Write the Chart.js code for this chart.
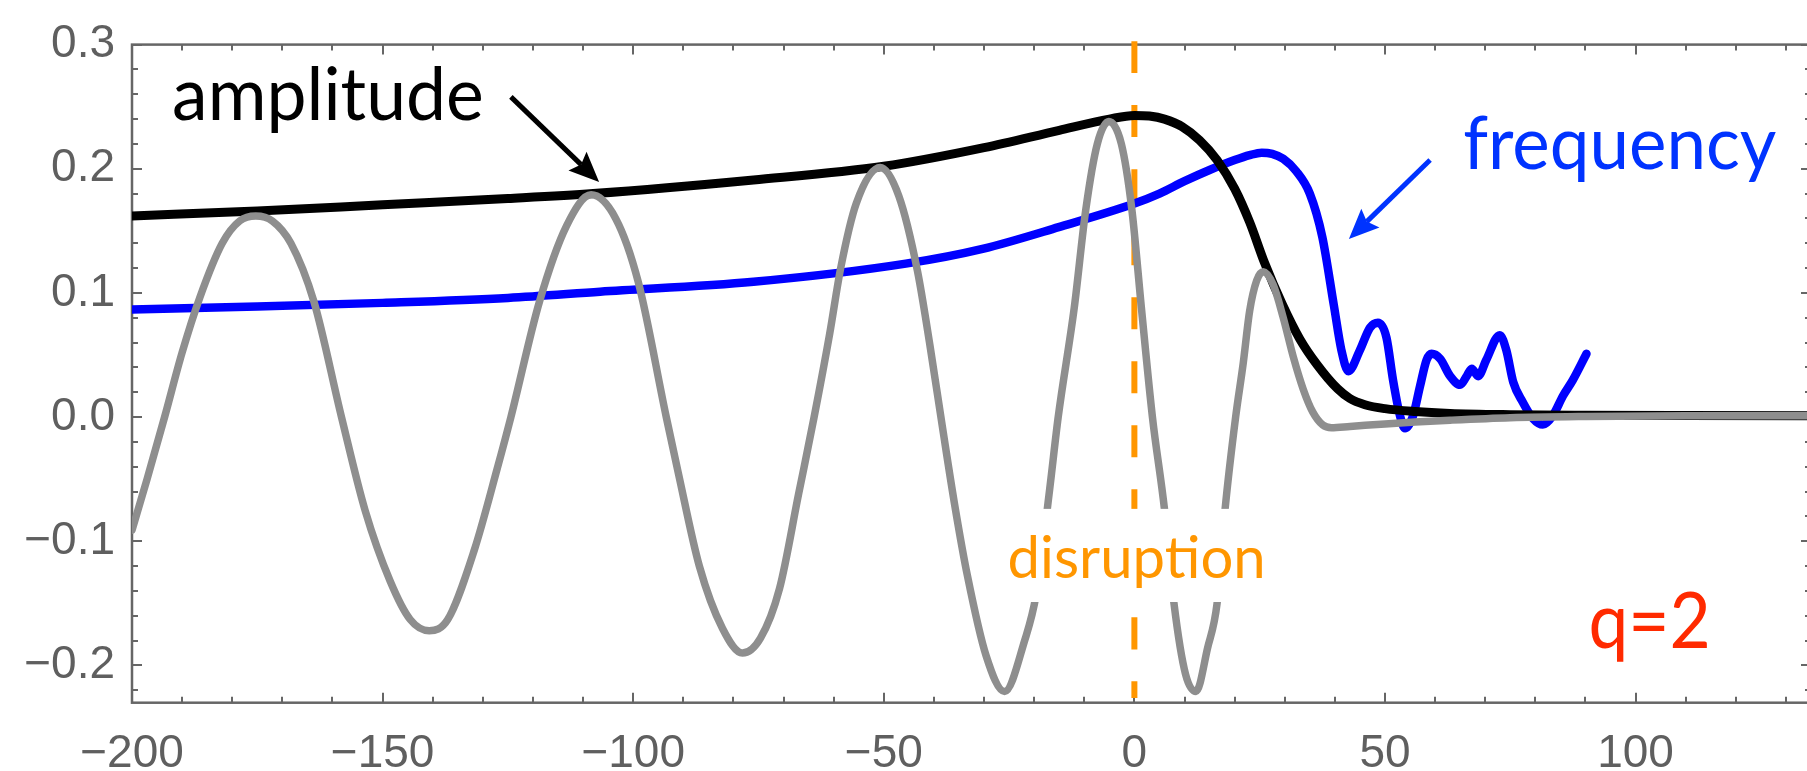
<!DOCTYPE html>
<html>
<head>
<meta charset="utf-8">
<script src="https://cdn.jsdelivr.net/npm/chart.js@4.4.1/dist/chart.umd.min.js"></script>
<style>
  html, body { margin: 0; padding: 0; background: #fff; overflow: hidden; }
  canvas { display: block; }
</style>
</head>
<body>
<canvas id="myChart" width="1815" height="771"></canvas>
<script>
// waveform (gray)
const strainT = [-200, -197, -193.5, -190, -186.5, -182, -178.5, -175.3, -172, -168.3, -163.7, -158.2, -153.5, -148.5, -144.5, -140.7,
  -137, -131.7, -127.1, -124.4, -118.7, -113.3, -108.4, -103.5, -99, -93.4, -91, -86.8, -82.2, -78.2,
  -74.6, -70.8, -67, -63.9, -60.8, -58.6, -55.5, -50.7, -47, -43.3, -40.8, -38.3, -35.8, -33.3, -29.6, -25.9,
  -21.9, -19.6, -16.9, -15.2, -12, -9.7, -7.4, -5.1, -2.6, -0.5, 1.4, 3.6, 6, 7.9, 10.2, 12.3,
  14.6, 16.5, 18.1, 20.2, 21.7, 23, 24.4, 25.7, 27.7, 29.7, 31.7, 33.7, 35.6, 37.6, 39.3, 43, 50, 56, 63, 75, 90, 110, 135];
const strainH = [-0.091, -0.050, 0.000, 0.052, 0.096, 0.140, 0.158, 0.162, 0.158, 0.140, 0.093, 0.000, -0.075, -0.132, -0.163, -0.172,
  -0.163, -0.107, -0.041, 0.000, 0.093, 0.154, 0.179, 0.160, 0.109, 0.000, -0.045, -0.120, -0.170, -0.190,
  -0.178, -0.138, -0.062, 0.000, 0.067, 0.120, 0.172, 0.201, 0.178, 0.118, 0.058, -0.008, -0.072, -0.128, -0.192, -0.221,
  -0.180, -0.143, -0.058, 0.000, 0.088, 0.167, 0.220, 0.238, 0.220, 0.167, 0.088, 0.000, -0.074, -0.150, -0.207, -0.221,
  -0.186, -0.150, -0.074, 0.000, 0.043, 0.0855, 0.110, 0.117, 0.1065, 0.080, 0.0486, 0.0223, 0.004, -0.0064, -0.0085, -0.0075, -0.0055, -0.004, -0.0025, -0.0005, 0.0005, 0.001, 0.001];

// amplitude (black)
const ampT = [-200, -175, -150, -125, -108, -76, -50, -30, -15, -5, 0, 3, 6, 9.5, 13, 16.5, 20, 23, 26, 29.5, 33, 36.5, 40.5, 43, 46, 50, 56, 63, 75, 90, 110, 135];
const ampA = [0.162, 0.166, 0.171, 0.176, 0.180, 0.191, 0.202, 0.217, 0.231, 0.240, 0.243, 0.2425, 0.240, 0.234, 0.223, 0.207, 0.184, 0.157, 0.124, 0.091, 0.063, 0.042, 0.023, 0.015, 0.010, 0.0068, 0.0045, 0.003, 0.002, 0.0015, 0.0012, 0.001];

// frequency (blue)
const freqT = [-200, -175, -150, -125, -106.6, -76, -45.6, -30.3, -15.1, 0, 5, 10, 15, 20, 23, 25.4, 27.5, 29.7, 32.3, 35, 37.5, 39.8, 41.3, 42.7,
  45, 47, 48.6, 50.3, 51.6, 53, 54, 55.6, 57, 58.3, 59.3, 61, 63, 65, 66.3, 67.3, 68.6, 70.2, 72.9, 74.2, 75.6, 77.5, 79.5, 81.5, 83.5, 85.5, 87.5, 90.2];
const freqW = [0.0866, 0.089, 0.092, 0.096, 0.101, 0.109, 0.1236, 0.1355, 0.153, 0.172, 0.180, 0.190, 0.199, 0.207, 0.211, 0.213, 0.212, 0.208, 0.198, 0.180, 0.145, 0.090, 0.054, 0.037,
  0.054, 0.072, 0.076, 0.064, 0.030, 0.001, -0.009, 0.001, 0.025, 0.046, 0.051, 0.047, 0.033, 0.026, 0.033, 0.039, 0.033, 0.046, 0.066, 0.054, 0.028, 0.012, -0.001, -0.006, 0.0013, 0.017, 0.030, 0.051];

// disruption marker
const disruptionT = [0, 0];
const disruptionY = [0.3027, -0.2263];

const xTicks = [-200, -150, -100, -50, 0, 50, 100];
const yTicks = [-0.2, -0.1, 0, 0.1, 0.2, 0.3];

const toPoints = (xs, ys) => xs.map((x, i) => ({ x, y: ys[i] }));
const minus = (s) => s.replace('-', '\u2212');

// text labels, placed in data coordinates (size = font px, squeezed to fit x0..x1)
const notes = [
  { text: 'amplitude', x0: -192, x1: -129.8, y: 0.2395, size: 74, color: '#000000' },
  { text: 'frequency', x0: 65.6, x1: 128.1, y: 0.2, size: 74, color: '#0033ff' },
  { text: 'disruption', x0: -25.3, x1: 26.2, y: -0.1292, size: 58, color: '#ff9600', box: [-26.9, 27.4, -0.0739, -0.1489] },
  { text: 'q=2', x0: 90.6, x1: 115, y: -0.1858, size: 77, color: '#ff2a00' },
];
const arrows = [
  { from: [-124.4, 0.2579], to: [-106.8, 0.1894], color: '#000000' },
  { from: [59.0, 0.2071], to: [42.8, 0.1434], color: '#0033ff' },
];

const frameTicks = {
  id: 'frameTicks',
  beforeDatasetsDraw(chart) {
    const { ctx, chartArea: a, scales: { x, y } } = chart;
    ctx.save();
    ctx.strokeStyle = '#666666';
    ctx.lineWidth = 2.5;
    ctx.strokeRect(a.left, a.top, a.right - a.left, a.bottom - a.top);
    ctx.lineWidth = 2;
    ctx.beginPath();
    for (let v = -200; v <= 130; v += 10) {
      const px = Math.round(x.getPixelForValue(v));
      const len = v % 50 === 0 ? 10 : 6;
      ctx.moveTo(px, a.bottom); ctx.lineTo(px, a.bottom - len);
      ctx.moveTo(px, a.top); ctx.lineTo(px, a.top + len);
    }
    for (let i = -11; i <= 15; i++) {
      const py = Math.round(y.getPixelForValue(i * 0.02));
      const len = i % 5 === 0 ? 10 : 6;
      ctx.moveTo(a.left, py); ctx.lineTo(a.left + len, py);
      ctx.moveTo(a.right, py); ctx.lineTo(a.right - len, py);
    }
    ctx.stroke();
    ctx.restore();
  }
};

const drawArrow = (ctx, x0, y0, x1, y1, color) => {
  const ang = Math.atan2(y1 - y0, x1 - x0);
  const head = 30, half = 13, notch = 5;
  const cos = Math.cos(ang), sin = Math.sin(ang);
  const bx = x1 - head * cos, by = y1 - head * sin;
  ctx.strokeStyle = color;
  ctx.fillStyle = color;
  ctx.lineWidth = 5;
  ctx.beginPath();
  ctx.moveTo(x0, y0);
  ctx.lineTo(bx + notch * cos, by + notch * sin);
  ctx.stroke();
  ctx.beginPath();
  ctx.moveTo(x1, y1);
  ctx.lineTo(bx + half * sin, by - half * cos);
  ctx.lineTo(bx + notch * cos, by + notch * sin);
  ctx.lineTo(bx - half * sin, by + half * cos);
  ctx.closePath();
  ctx.fill();
};

const annotations = {
  id: 'annotations',
  afterDatasetsDraw(chart) {
    const { ctx, scales: { x, y } } = chart;
    ctx.save();
    notes.forEach((n) => {
      if (n.box) {
        const l = x.getPixelForValue(n.box[0]), r = x.getPixelForValue(n.box[1]);
        const t = y.getPixelForValue(n.box[2]), b = y.getPixelForValue(n.box[3]);
        ctx.fillStyle = '#ffffff';
        ctx.fillRect(l, t, r - l, b - t);
      }
      const left = x.getPixelForValue(n.x0), right = x.getPixelForValue(n.x1);
      ctx.font = n.size + 'px Lato';
      const sx = (right - left) / ctx.measureText(n.text).width;
      ctx.save();
      ctx.translate(left, y.getPixelForValue(n.y));
      ctx.scale(sx, 1);
      ctx.fillStyle = n.color;
      ctx.textBaseline = 'alphabetic';
      ctx.textAlign = 'left';
      ctx.fillText(n.text, 0, 0);
      ctx.restore();
    });
    arrows.forEach((a) => {
      drawArrow(ctx, x.getPixelForValue(a.from[0]), y.getPixelForValue(a.from[1]),
        x.getPixelForValue(a.to[0]), y.getPixelForValue(a.to[1]), a.color);
    });
    ctx.restore();
  }
};

const ctx = document.getElementById('myChart');
const tickFont = { family: 'Liberation Sans', size: 46 };

chart = new Chart(ctx, {
  type: 'line',
  data: {
    datasets: [
      { data: toPoints(strainT, strainH), borderColor: '#8e8e8e', borderWidth: 7.5 },
      { data: toPoints(ampT, ampA), borderColor: '#000000', borderWidth: 9 },
      { data: toPoints(freqT, freqW), borderColor: '#0000ff', borderWidth: 8.5 },
      {
        data: toPoints(disruptionT, disruptionY), borderColor: '#ff9600', borderWidth: 6,
        borderDash: [32, 32], borderCapStyle: 'butt', clip: false,
      },
    ],
  },
  options: {
    responsive: false,
    animation: false,
    devicePixelRatio: 1,
    layout: { padding: { top: 31.7, right: 4, left: 0, bottom: 0 } },
    elements: {
      point: { radius: 0 },
      line: { cubicInterpolationMode: 'monotone', borderJoinStyle: 'round', borderCapStyle: 'round' },
    },
    plugins: { legend: { display: false }, tooltip: { enabled: false } },
    scales: {
      x: {
        type: 'linear', min: -200, max: 135,
        afterBuildTicks: (s) => { s.ticks = xTicks.map((v) => ({ value: v })); },
        afterFit: (s) => { s.height = 68.3; },
        grid: { display: false, drawTicks: false },
        border: { display: false },
        ticks: { padding: 24, color: '#5f5f5f', font: tickFont, maxRotation: 0, autoSkip: false,
          callback: (v) => minus(String(v)) },
      },
      y: {
        type: 'linear', min: -0.23, max: 0.3,
        afterBuildTicks: (s) => { s.ticks = yTicks.map((v) => ({ value: v })); },
        afterFit: (s) => { s.width = 132; },
        grid: { display: false, drawTicks: false },
        border: { display: false },
        ticks: { padding: 17, color: '#5f5f5f', font: tickFont, autoSkip: false,
          callback: (v) => minus(v.toFixed(1)) },
      },
    },
  },
  plugins: [frameTicks, annotations],
});
</script>
</body>
</html>
